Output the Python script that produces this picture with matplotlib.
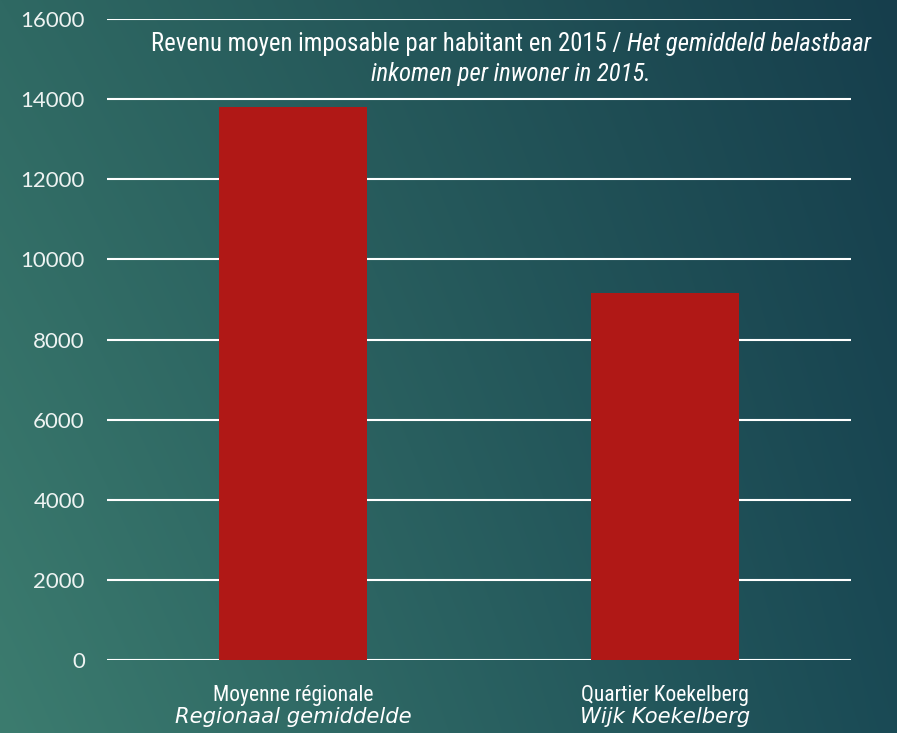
import numpy as np
import matplotlib
matplotlib.use("Agg")
import matplotlib.pyplot as plt
from matplotlib import font_manager
from matplotlib.transforms import blended_transform_factory, offset_copy

categories_fr = ["Moyenne régionale", "Quartier Koekelberg"]
categories_nl = ["Regionaal gemiddelde", "Wijk Koekelberg"]
values = [13800, 9150]
yticks = [0, 2000, 4000, 6000, 8000, 10000, 12000, 14000, 16000]
title_fr = "Revenu moyen imposable par habitant en 2015 / "
title_nl_1 = "Het gemiddeld belastbaar"
title_nl_2 = "inkomen per inwoner in 2015."

names = {f.name for f in font_manager.fontManager.ttflist}
narrow = next((n for n in ["Liberation Sans Narrow", "Roboto Condensed", "Open Sans Condensed",
                           "Arial Narrow"] if n in names), None)
sans_fam = [narrow, "Liberation Sans"] if narrow else ["Liberation Sans"]

W, H = 897, 733
fig = plt.figure(figsize=(W / 100, H / 100), dpi=100)

# background gradient
bg = fig.add_axes([0, 0, 1, 1], zorder=-10)
bg.set_axis_off()
tl = np.array([47, 105, 99]) / 255
tr = np.array([22, 62, 76]) / 255
bl = np.array([60, 124, 111]) / 255
br = np.array([26, 74, 85]) / 255
u = np.linspace(0, 1, 300)[None, :, None]
v = np.linspace(0, 1, 300)[:, None, None]
img = (1 - v) * ((1 - u) * tl + u * tr) + v * ((1 - u) * bl + u * br)
bg.imshow(img, aspect="auto", extent=[0, 1, 0, 1], interpolation="bilinear")
bg.set_xlim(0, 1)
bg.set_ylim(0, 1)

ax = fig.add_axes([107 / W, 73 / H, (851 - 107) / W, (660 - 19) / H])
ax.patch.set_alpha(0)
x = np.arange(len(values))
ax.bar(x, values, width=0.4, color="#b01816", zorder=3)
ax.set_xlim(-0.5, 1.5)
ax.set_ylim(0, 16000)
ax.set_yticks(yticks)
ax.set_yticklabels([str(t) for t in yticks], fontsize=16, color="#eef3f2",
                   family=["Lato", "DejaVu Sans"])
for t in yticks:
    ax.axhline(t, color="white", lw=1.5, zorder=1)
ax.tick_params(axis="y", length=0, pad=16)
ax.tick_params(axis="x", length=0)
ax.set_xticks([])
for s in ax.spines.values():
    s.set_visible(False)

cat_fs = 15.5 if narrow else 13.5
tr_x = blended_transform_factory(ax.transData, ax.transAxes)
for i in range(len(values)):
    ax.text(x[i], 0, categories_fr[i], transform=offset_copy(tr_x, fig=fig, x=0, y=-41, units="dots"),
            ha="center", va="baseline", color="white", fontsize=cat_fs, family=sans_fam)
    ax.text(x[i], 0, categories_nl[i], transform=offset_copy(tr_x, fig=fig, x=0, y=-63, units="dots"),
            ha="center", va="baseline", color="white", fontsize=15.2, style="italic",
            family=["DejaVu Sans"])

# title, mixed styles, scaled to the reference line width
fig.canvas.draw()
r = fig.canvas.get_renderer()
cx = 511
base1 = H - 51
base2 = H - 81
t1 = fig.text(0, base1 / H, title_fr, fontsize=10, color="white", family=sans_fam, va="baseline")
t2 = fig.text(0, base1 / H, title_nl_1, fontsize=10, color="white", family=sans_fam, style="italic",
              va="baseline")
w10 = t1.get_window_extent(r).width + t2.get_window_extent(r).width
fs = 10 * 718 / w10
t1.set_fontsize(fs)
t2.set_fontsize(fs)
w1 = t1.get_window_extent(r).width
w2 = t2.get_window_extent(r).width
x0 = cx - (w1 + w2) / 2
t1.set_x(x0 / W)
t2.set_x((x0 + w1) / W)
fig.text(cx / W, base2 / H, title_nl_2, fontsize=fs, color="white", family=sans_fam, style="italic",
         va="baseline", ha="center")

fig.savefig("out.png", dpi=100)
